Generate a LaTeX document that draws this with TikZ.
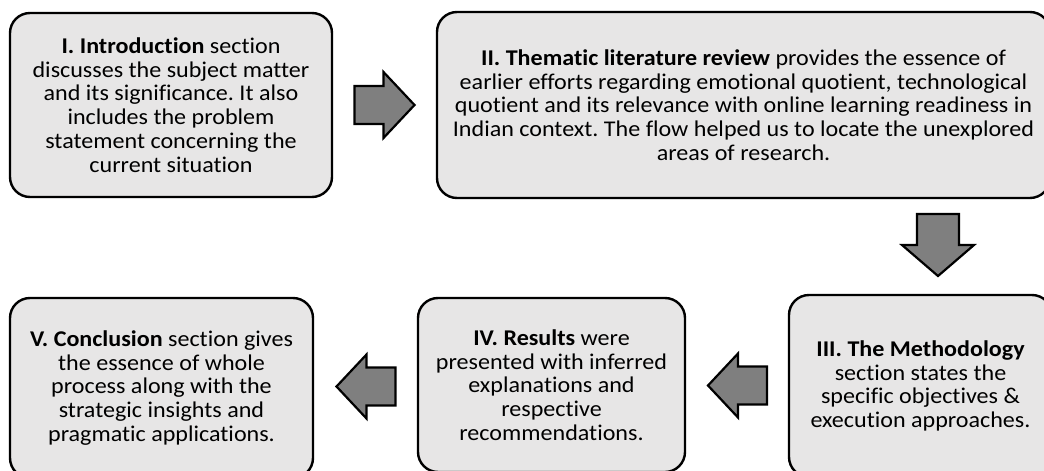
\documentclass[tikz,border=0pt]{standalone}
\usepackage{fontspec}
\setmainfont[Ligatures=NoCommon, FakeStretch=1.07]{Carlito}
\usetikzlibrary{calc}
\definecolor{boxfill}{HTML}{E7E6E6}
\definecolor{arrowfill}{HTML}{7F7F7F}
\tikzset{
  stagebox/.style={draw=black, fill=boxfill, line width=2.4pt, rounded corners=20pt,
    inner sep=0pt, align=center, text=black,
    font=\fontsize{22.5pt}{23.7pt}\selectfont\frenchspacing},
  blockarrow/.style={draw=black, fill=arrowfill, line width=2.2pt, line join=miter}
}
\begin{document}
\begin{tikzpicture}[x=1pt,y=-1pt]
\useasboundingbox (0,0) rectangle (1044,471);
\clip (0,0) rectangle (1044,471);
\node[stagebox, minimum width=322pt, minimum height=184pt] (I) at (171,105)
  {\textbf{I. Introduction} section\\ discusses the subject matter\\ and its significance. It also\\ includes the problem\\ statement concerning the\\ current situation};
\node[stagebox, minimum width=613pt, minimum height=186pt] (II) at (743.5,105)
  {\textbf{II. Thematic literature review} provides the essence of\\ earlier efforts regarding emotional quotient, technological\\ quotient and its relevance with online learning readiness in\\ Indian context. The flow helped us to locate the unexplored\\ areas of research.};
\node[stagebox, minimum width=263pt, minimum height=182pt] (III) at (920.5,386)
  {\textbf{III. The Methodology}\\ section states the\\ specific objectives \&\\ execution approaches.};
\node[stagebox, minimum width=267pt, minimum height=174pt] (IV) at (551.5,385)
  {\textbf{IV. Results} were\\ presented with inferred\\ explanations and\\ respective\\ recommendations.};
\node[stagebox, minimum width=303pt, minimum height=180pt] (V) at (161.5,388)
  {\textbf{V. Conclusion} section gives\\ the essence of whole\\ process along with the\\ strategic insights and\\ pragmatic applications.};
% block arrows
\coordinate (a1) at ($(I.east)!0.5!(II.west)$);
\coordinate (a2) at (938,245);
\coordinate (a3) at ($(IV.east)!0.5!(III.west)$);
\coordinate (a4) at ($(V.east)!0.5!(IV.west)$);
\draw[blockarrow, shift={(a1)}] (-30,-19) -- (-1,-19) -- (-1,-33) -- (30,0) -- (-1,33) -- (-1,19) -- (-30,19) -- cycle;
\draw[blockarrow, shift={(a2)}] (-21,-31) -- (21,-31) -- (21,0) -- (36,0) -- (0,31) -- (-36,0) -- (-21,0) -- cycle;
\draw[blockarrow, shift={(a3)}] (30,-19) -- (1,-19) -- (1,-32) -- (-29,0) -- (1,32) -- (1,19) -- (30,19) -- cycle;
\draw[blockarrow, shift={(a4)}] (30,-19) -- (1,-19) -- (1,-32) -- (-29,0) -- (1,32) -- (1,19) -- (30,19) -- cycle;
\end{tikzpicture}
\end{document}
